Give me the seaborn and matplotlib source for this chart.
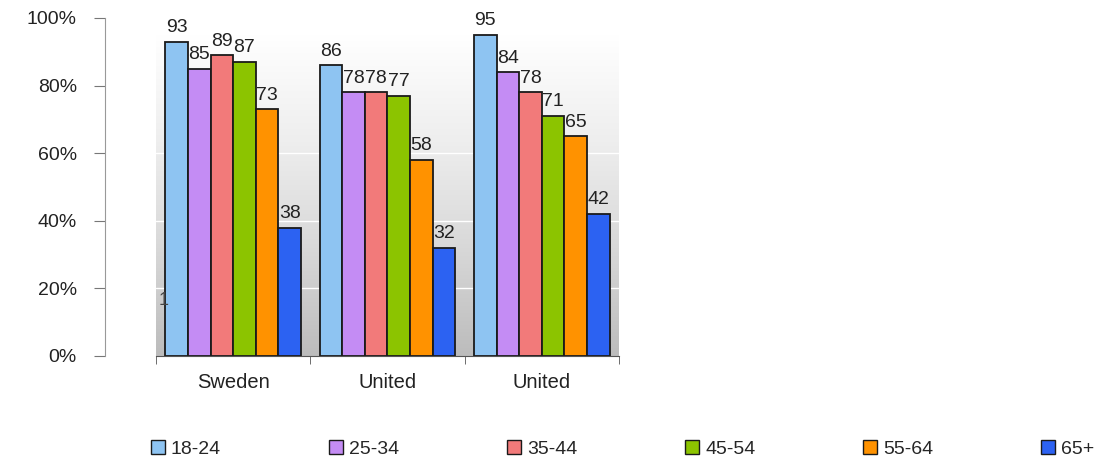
import numpy as np
import pandas as pd
import matplotlib
matplotlib.use("Agg")
import matplotlib.pyplot as plt
import seaborn as sns
from matplotlib.patches import Patch
from matplotlib.colors import LinearSegmentedColormap

# data
countries = ["Sweden", "United", "United"]
age_groups = ["18-24", "25-34", "35-44", "45-54", "55-64", "65+"]
sweden = [93, 85, 89, 87, 73, 38]
united_1 = [86, 78, 78, 77, 58, 32]
united_2 = [95, 84, 78, 71, 65, 42]
colors = ["#8ec4f2", "#c48cf4", "#f27a7a", "#8cc400", "#ff9200", "#2c62f2"]
y_ticks = [0, 20, 40, 60, 80, 100]

df = pd.DataFrame({
    "country": np.repeat(["g0", "g1", "g2"], len(age_groups)),
    "age": age_groups * 3,
    "value": sweden + united_1 + united_2,
})

sns.set_style("white")
plt.rcParams["font.family"] = ["Liberation Sans", "DejaVu Sans"]

fig = plt.figure(figsize=(11.16, 4.57), dpi=100)
ax = fig.add_axes([156 / 1116, 1 - 356 / 457, (619 - 156) / 1116, (356 - 18) / 457])

# grey gradient background
grad = np.linspace(0, 1, 256).reshape(-1, 1)
cmap = LinearSegmentedColormap.from_list("bg", ["#bcbcbc", "#d8d8d8", "#eeeeee", "#ffffff"])
ax.imshow(grad, cmap=cmap, aspect="auto", extent=(-0.5, 2.5, 0, 95),
          origin="lower", zorder=0)
for g in [20, 40, 60]:
    ax.axhline(g, color="white", lw=1, zorder=0.5)

sns.barplot(data=df, x="country", y="value", hue="age", palette=colors,
            width=0.88, gap=0, edgecolor="#1a1a1a", linewidth=1.3,
            saturation=1, legend=False, ax=ax, zorder=2)

for cont in ax.containers:
    ax.bar_label(cont, padding=4, fontsize=14, color="#222222")

ax.text(-0.485, 19, "1", fontsize=13, color="#444444", ha="left", va="top")

# spines first, set_position resets tick styling
for s in ["top", "right"]:
    ax.spines[s].set_visible(False)
ax.spines["left"].set_position(("outward", 37))
ax.spines["left"].set_color("#999999")
ax.spines["bottom"].set_color("#555555")
ax.grid(False)

ax.set_xlim(-0.5, 2.5)
ax.set_ylim(0, 100)
ax.set_xlabel("")
ax.set_ylabel("")
ax.set_xticks([0, 1, 2])
ax.set_xticklabels(countries)
ax.set_xticks([-0.5, 0.5, 1.5, 2.5], minor=True)
ax.tick_params(axis="x", which="major", length=0, pad=12, labelsize=14.5, labelcolor="#222222")
ax.tick_params(axis="x", which="minor", length=6, color="#555555", direction="out", bottom=True)
ax.set_yticks(y_ticks)
ax.set_yticklabels([f"{t}%" for t in y_ticks])
ax.tick_params(axis="y", length=8, color="#777777", direction="out", left=True, pad=12,
               labelsize=14, labelcolor="#222222")

handles = [Patch(facecolor=c, edgecolor="#1a1a1a", linewidth=1) for c in colors]
fig.legend(handles, age_groups, ncol=6, loc="lower left", mode="expand",
           bbox_to_anchor=(133 / 1116, -0.04, (1112 - 133) / 1116, 0.06),
           frameon=False, fontsize=14, handlelength=0.75, handleheight=0.75,
           handletextpad=0.3)

fig.savefig("out.png", dpi=100)
